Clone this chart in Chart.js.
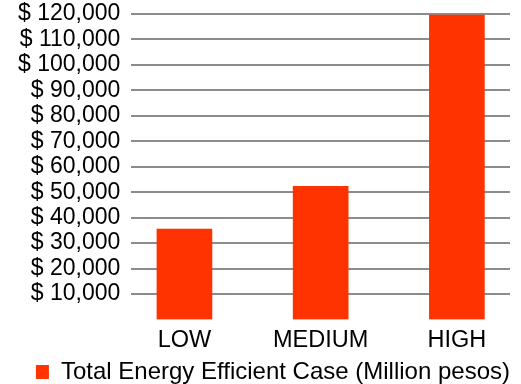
<!DOCTYPE html>
<html>
<head>
<meta charset="utf-8">
<script src="https://cdn.jsdelivr.net/npm/chart.js@4"></script>
<style>
  html, body { margin: 0; padding: 0; background: #fff; }
  #wrap { width: 521px; height: 384px; position: relative; }
</style>
</head>
<body>
<div id="wrap"><canvas id="costChart"></canvas></div>
<script>
const categories = ['LOW', 'MEDIUM', 'HIGH'];
const seriesName = 'Total Energy Efficient Case (Million pesos)';
const costValues = [35500, 52300, 119600];
const yTicks = [10000, 20000, 30000, 40000, 50000, 60000, 70000, 80000, 90000, 100000, 110000, 120000];

const font = 'Liberation Sans, Arial, sans-serif';

const ctx = document.getElementById('costChart').getContext('2d');
new Chart(ctx, {
    type: 'bar',
    data: {
        datasets: [{
            label: seriesName,
            data: costValues.map((v, i) => ({ x: i, y: v })),
            backgroundColor: '#ff3300',
            borderWidth: 0,
            barThickness: 55
        }]
    },
    options: {
        responsive: true,
        maintainAspectRatio: false,
        animation: false,
        devicePixelRatio: 1,
        layout: { padding: { top: 14, right: 11, left: 7, bottom: -10 } },
        plugins: {
            tooltip: { enabled: false },
            legend: {
                position: 'bottom',
                align: 'end',
                labels: {
                    color: '#000',
                    font: { family: font, size: 24 },
                    boxWidth: 13,
                    boxHeight: 14,
                    padding: 0
                }
            }
        },
        scales: {
            x: {
                type: 'linear',
                offset: false,
                min: -0.39,
                max: 2.39,
                afterBuildTicks: axis => { axis.ticks = categories.map((c, i) => ({ value: i })); },
                // a bit of extra room between the category labels and the legend
                afterFit: axis => { axis.height += 7; },
                ticks: {
                    color: '#000',
                    font: { family: font, size: 23.5, lineHeight: 1 },
                    padding: 1,
                    maxRotation: 0,
                    autoSkip: false,
                    callback: v => categories[v]
                },
                grid: { display: false },
                border: { display: false }
            },
            y: {
                min: 0,
                max: 120000,
                afterBuildTicks: axis => { axis.ticks = yTicks.map(v => ({ value: v })); },
                // top label may poke above the plot; don't reserve room for it
                afterFit: axis => { axis.paddingTop = 0; },
                ticks: {
                    color: '#000',
                    font: { family: font, size: 23 },
                    padding: 11,
                    autoSkip: false,
                    callback: v => '$ ' + v.toLocaleString('en-US')
                },
                grid: { color: '#8c8c8c', lineWidth: 2, drawTicks: false },
                border: { display: false }
            }
        }
    }
});
</script>
</body>
</html>
